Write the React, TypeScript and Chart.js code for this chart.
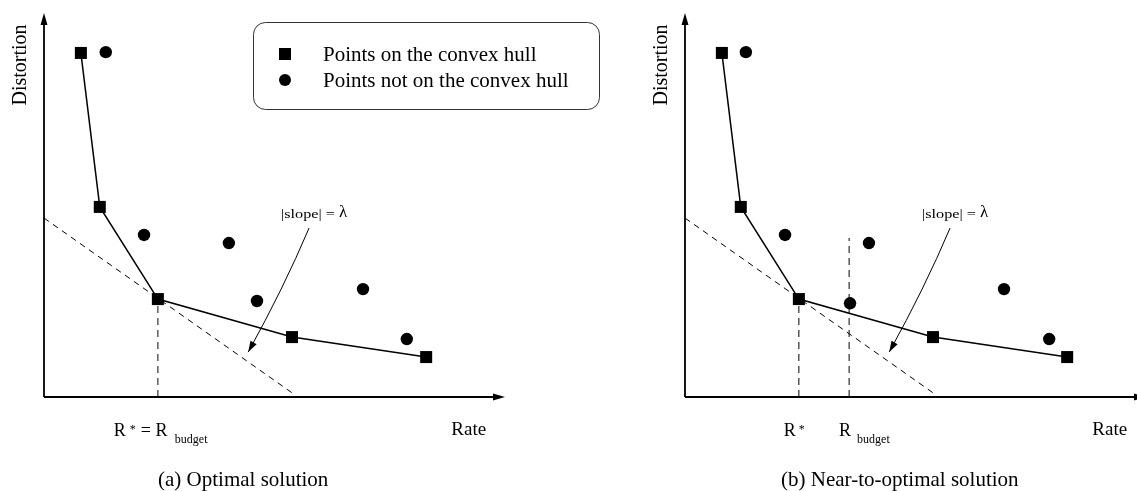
import React, { useEffect, useRef } from "react";
import { Chart, registerables } from "chart.js";

Chart.register(...registerables);

// ---- data (rate / distortion in arbitrary units 0..100) ----
const hullRate = [8.0, 12.1, 24.7, 53.8, 82.9];
const hullDist = [89.6, 49.5, 25.5, 15.6, 10.4];
const offRateA = [13.4, 21.7, 40.1, 46.2, 69.2, 78.7];
const offDistA = [89.8, 42.2, 40.1, 25.0, 28.1, 15.1];
const offRateB = [13.2, 21.7, 39.9, 35.8, 69.2, 79.0];
const offDistB = [89.8, 42.2, 40.1, 24.4, 28.1, 15.1];
const tangentRate = [0, 54.5];
const tangentDist = [46.6, 0.5];
const rStar = 24.7;
const rBudgetB = 35.6;
const rBudgetBTop = 41.4;
const arrowFrom = [57.5, 44.0];
const arrowTo = [44.3, 11.7];
const slopePos = [58.6, 47.9];
const rateLabelEnd = 95.9;

const legendLabels = ["Points on the convex hull", "Points not on the convex hull"];
const xTitle = "Rate";
const yTitle = "Distortion";
const captions = ["(a) Optimal solution", "(b) Near-to-optimal solution"];
const captionX = [43.2, 46.6];

const SERIF = "'Liberation Serif', 'Times New Roman', serif";

function pts(xs: number[], ys: number[]) {
  return xs.map((x, i) => ({ x, y: ys[i] }));
}

function roundRect(ctx: CanvasRenderingContext2D, x: number, y: number, w: number, h: number, r: number) {
  ctx.beginPath();
  ctx.moveTo(x + r, y);
  ctx.lineTo(x + w - r, y);
  ctx.arcTo(x + w, y, x + w, y + r, r);
  ctx.lineTo(x + w, y + h - r);
  ctx.arcTo(x + w, y + h, x + w - r, y + h, r);
  ctx.lineTo(x + r, y + h);
  ctx.arcTo(x, y + h, x, y + h - r, r);
  ctx.lineTo(x, y + r);
  ctx.arcTo(x, y, x + r, y, r);
  ctx.closePath();
}

function makePlugin(panel: number) {
  return {
    id: "panelDecor" + panel,
    afterDraw(chart: any) {
      const ctx: CanvasRenderingContext2D = chart.ctx;
      const a = chart.chartArea;
      const xs = chart.scales.x;
      const ys = chart.scales.y;
      ctx.save();
      ctx.strokeStyle = "#000";
      ctx.fillStyle = "#000";
      // axes with arrows
      ctx.lineWidth = 1.8;
      ctx.setLineDash([]);
      ctx.beginPath();
      ctx.moveTo(a.left, a.bottom);
      ctx.lineTo(a.right - 8, a.bottom);
      ctx.moveTo(a.left, a.bottom);
      ctx.lineTo(a.left, a.top + 8);
      ctx.stroke();
      ctx.beginPath();
      ctx.moveTo(a.right, a.bottom);
      ctx.lineTo(a.right - 12, a.bottom - 3.5);
      ctx.lineTo(a.right - 12, a.bottom + 3.5);
      ctx.closePath();
      ctx.fill();
      ctx.beginPath();
      ctx.moveTo(a.left, a.top);
      ctx.lineTo(a.left - 3.5, a.top + 12);
      ctx.lineTo(a.left + 3.5, a.top + 12);
      ctx.closePath();
      ctx.fill();

      // curved arrow
      const fx = xs.getPixelForValue(arrowFrom[0]);
      const fy = ys.getPixelForValue(arrowFrom[1]);
      const tx = xs.getPixelForValue(arrowTo[0]);
      const ty = ys.getPixelForValue(arrowTo[1]);
      const cx = (fx + tx) / 2 + 5;
      const cy = (fy + ty) / 2 - 2;
      ctx.lineWidth = 1;
      ctx.beginPath();
      ctx.moveTo(fx, fy);
      ctx.quadraticCurveTo(cx, cy, tx, ty);
      ctx.stroke();
      const ang = Math.atan2(ty - cy, tx - cx);
      ctx.beginPath();
      ctx.moveTo(tx, ty);
      ctx.lineTo(tx - 11 * Math.cos(ang) + 3.5 * Math.sin(ang), ty - 11 * Math.sin(ang) - 3.5 * Math.cos(ang));
      ctx.lineTo(tx - 11 * Math.cos(ang) - 3.5 * Math.sin(ang), ty - 11 * Math.sin(ang) + 3.5 * Math.cos(ang));
      ctx.closePath();
      ctx.fill();

      // slope label
      const sx = xs.getPixelForValue(slopePos[0]);
      const sy = ys.getPixelForValue(slopePos[1]);
      ctx.textBaseline = "alphabetic";
      ctx.textAlign = "left";
      ctx.font = "12px " + SERIF;
      const part = "|slope| = ";
      const pw = ctx.measureText(part).width * 1.35;
      ctx.font = "17px " + SERIF;
      const lw = ctx.measureText("λ").width;
      const startX = sx - (pw + lw) / 2;
      ctx.save();
      ctx.translate(startX, sy + 5);
      ctx.scale(1.35, 1);
      ctx.font = "12px " + SERIF;
      ctx.fillText(part, 0, 0);
      ctx.restore();
      ctx.font = "17px " + SERIF;
      ctx.fillText("λ", startX + pw, sy + 4);

      // axis titles
      ctx.font = "19px " + SERIF;
      ctx.textAlign = "right";
      ctx.fillText(xTitle, xs.getPixelForValue(rateLabelEnd), a.bottom + 38);
      ctx.save();
      ctx.translate(a.left - 18, a.top + 52);
      ctx.rotate(-Math.PI / 2);
      ctx.textAlign = "center";
      ctx.font = "20px " + SERIF;
      ctx.fillText(yTitle, 0, 0);
      ctx.restore();

      // R labels
      ctx.textAlign = "left";
      const rs = xs.getPixelForValue(rStar);
      if (panel === 0) {
        const s = rs - 44;
        ctx.font = "18px " + SERIF;
        ctx.fillText("R", s, a.bottom + 39);
        ctx.font = "12px " + SERIF;
        ctx.fillText("*", s + 16, a.bottom + 36);
        ctx.font = "18px " + SERIF;
        ctx.fillText("= R", s + 27, a.bottom + 39);
        ctx.font = "12px " + SERIF;
        ctx.fillText("budget", s + 61, a.bottom + 46);
      } else {
        const s = rs - 15;
        ctx.font = "18px " + SERIF;
        ctx.fillText("R", s, a.bottom + 39);
        ctx.font = "12px " + SERIF;
        ctx.fillText("*", s + 15, a.bottom + 36);
        const b = xs.getPixelForValue(rBudgetB) - 10;
        ctx.font = "18px " + SERIF;
        ctx.fillText("R", b, a.bottom + 39);
        ctx.font = "12px " + SERIF;
        ctx.fillText("budget", b + 18, a.bottom + 46);
      }

      // caption
      ctx.textAlign = "center";
      ctx.font = "21px " + SERIF;
      ctx.fillText(captions[panel], xs.getPixelForValue(captionX[panel]), a.bottom + 89);

      // legend (left panel only)
      if (panel === 0) {
        ctx.lineWidth = 1;
        ctx.strokeStyle = "#333";
        roundRect(ctx, 253.5, 22.5, 346, 87, 12);
        ctx.stroke();
        ctx.fillStyle = "#000";
        ctx.fillRect(279, 48, 12, 12);
        ctx.beginPath();
        ctx.arc(285, 80, 6, 0, Math.PI * 2);
        ctx.fill();
        ctx.textAlign = "left";
        ctx.textBaseline = "alphabetic";
        ctx.font = "21px " + SERIF;
        ctx.fillText(legendLabels[0], 323, 61);
        ctx.fillText(legendLabels[1], 323, 87);
      }
      ctx.restore();
    },
  };
}

function buildChart(canvas: HTMLCanvasElement, panel: number, padding: any) {
  const offR = panel === 0 ? offRateA : offRateB;
  const offD = panel === 0 ? offDistA : offDistB;
  const datasets: any[] = [
    {
      label: legendLabels[0],
      data: pts(hullRate, hullDist),
      showLine: true,
      borderColor: "#000",
      borderWidth: 1.5,
      backgroundColor: "#000",
      pointStyle: "rect",
      pointRadius: 8.5,
      pointBorderWidth: 0,
      clip: false,
    },
    {
      label: legendLabels[1],
      data: pts(offR, offD),
      showLine: false,
      borderColor: "#000",
      backgroundColor: "#000",
      pointStyle: "circle",
      pointRadius: 6.2,
      pointBorderWidth: 0,
      clip: false,
    },
    {
      label: "tangent",
      data: pts(tangentRate, tangentDist),
      showLine: true,
      borderColor: "#000",
      borderWidth: 1,
      borderDash: [6, 5],
      pointRadius: 0,
      clip: false,
    },
    {
      label: "R*",
      data: pts([rStar, rStar], [0, hullDist[2]]),
      showLine: true,
      borderColor: panel === 0 ? "#444" : "#000",
      borderWidth: panel === 0 ? 1.3 : 1,
      borderDash: [7, 5],
      pointRadius: 0,
      clip: false,
    },
  ];
  if (panel === 1) {
    datasets.push({
      label: "Rbudget",
      data: pts([rBudgetB, rBudgetB], [0, rBudgetBTop]),
      showLine: true,
      borderColor: "#000",
      borderWidth: 1,
      borderDash: [7, 5],
      pointRadius: 0,
      clip: false,
    });
  }
  return new Chart(canvas, {
    type: "scatter",
    data: { datasets },
    options: {
      animation: false,
      responsive: false,
      events: [],
      layout: { padding },
      scales: {
        x: { type: "linear", min: 0, max: 100, display: false },
        y: { type: "linear", min: 0, max: 100, display: false },
      },
      plugins: { legend: { display: false }, tooltip: { enabled: false } },
    },
    plugins: [makePlugin(panel)],
  } as any);
}

export default function App() {
  const leftRef = useRef<HTMLCanvasElement>(null);
  const rightRef = useRef<HTMLCanvasElement>(null);
  useEffect(() => {
    const c1 = buildChart(leftRef.current!, 0, { left: 44, right: 135, top: 13, bottom: 94 });
    const c2 = buildChart(rightRef.current!, 1, { left: 45, right: 14, top: 13, bottom: 94 });
    return () => {
      c1.destroy();
      c2.destroy();
    };
  }, []);
  return (
    <div
      style={{
        position: "fixed",
        left: 0,
        top: 0,
        width: 1137,
        height: 491,
        overflow: "hidden",
        background: "#fff",
      }}
    >
      <canvas
        ref={leftRef}
        width={640}
        height={491}
        style={{ position: "absolute", left: 0, top: 0, width: 640, height: 491 }}
      />
      <canvas
        ref={rightRef}
        width={520}
        height={491}
        style={{ position: "absolute", left: 640, top: 0, width: 520, height: 491 }}
      />
    </div>
  );
}
